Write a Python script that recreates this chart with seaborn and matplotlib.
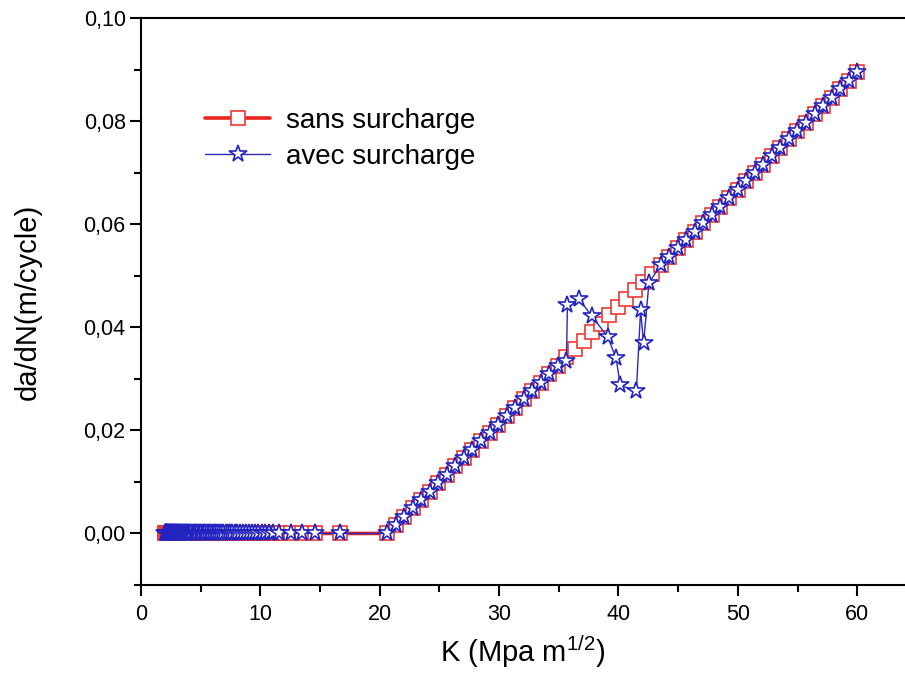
import matplotlib
matplotlib.use("Agg")
import matplotlib.pyplot as plt
import seaborn as sns
import pandas as pd
from matplotlib.ticker import MultipleLocator

# Stress intensity factor K (MPa m^1/2) -- low-K plateau where da/dN = 0
k_plateau = [2.00, 2.03, 2.06, 2.09, 2.12, 2.15, 2.18, 2.21, 2.24, 2.27,
             2.30, 2.33, 2.36, 2.40, 2.44, 2.48, 2.52, 2.56, 2.60, 2.64,
             2.68, 2.72, 2.77, 2.82, 2.87, 2.92, 2.97, 3.02, 3.08, 3.14,
             3.20, 3.26, 3.32, 3.38, 3.45, 3.52, 3.59, 3.66, 3.73, 3.81,
             3.89, 3.97, 4.05, 4.14, 4.23, 4.32, 4.41, 4.51, 4.61, 4.71,
             4.82, 4.93, 5.04, 5.16, 5.28, 5.40, 5.53, 5.66, 5.80, 5.94,
             6.09, 6.24, 6.40, 6.56, 6.73, 6.90, 7.08, 7.27, 7.46, 7.66,
             7.87, 8.08, 8.30, 8.53, 8.77, 9.02, 9.28, 9.55, 9.83, 10.12,
             10.42, 10.74, 11.08, 11.55, 12.55, 13.50, 14.55, 16.65]
dadn_plateau = [0.0, 0.0, 0.0, 0.0, 0.0, 0.0, 0.0, 0.0, 0.0, 0.0,
                0.0, 0.0, 0.0, 0.0, 0.0, 0.0, 0.0, 0.0, 0.0, 0.0,
                0.0, 0.0, 0.0, 0.0, 0.0, 0.0, 0.0, 0.0, 0.0, 0.0,
                0.0, 0.0, 0.0, 0.0, 0.0, 0.0, 0.0, 0.0, 0.0, 0.0,
                0.0, 0.0, 0.0, 0.0, 0.0, 0.0, 0.0, 0.0, 0.0, 0.0,
                0.0, 0.0, 0.0, 0.0, 0.0, 0.0, 0.0, 0.0, 0.0, 0.0,
                0.0, 0.0, 0.0, 0.0, 0.0, 0.0, 0.0, 0.0, 0.0, 0.0,
                0.0, 0.0, 0.0, 0.0, 0.0, 0.0, 0.0, 0.0, 0.0, 0.0,
                0.0, 0.0, 0.0, 0.0, 0.0, 0.0, 0.0, 0.0]

# Growth regime without overload
k_growth = [20.60, 21.32, 22.03, 22.75, 23.47, 24.18, 24.90, 25.61, 26.33, 27.05,
            27.76, 28.48, 29.20, 29.91, 30.63, 31.35, 32.06, 32.78, 33.50, 34.21,
            34.93, 35.64, 36.36, 37.08, 37.79, 38.51, 39.23, 39.94, 40.66, 41.38,
            42.09, 42.81, 43.53, 44.24, 44.96, 45.67, 46.39, 47.11, 47.82, 48.54,
            49.26, 49.97, 50.69, 51.41, 52.12, 52.84, 53.55, 54.27, 54.99, 55.70,
            56.42, 57.14, 57.85, 58.57, 59.29, 60.00]
dadn_growth = [0.0, 0.00163, 0.00325, 0.00488, 0.00651, 0.00813, 0.00976, 0.01137, 0.01301, 0.01464,
               0.01625, 0.01789, 0.01952, 0.02113, 0.02277, 0.02440, 0.02601, 0.02765, 0.02928, 0.03089,
               0.03253, 0.03414, 0.03578, 0.03741, 0.03902, 0.04066, 0.04229, 0.04390, 0.04554, 0.04717,
               0.04878, 0.05042, 0.05205, 0.05366, 0.05530, 0.05691, 0.05854, 0.06018, 0.06179, 0.06342,
               0.06506, 0.06667, 0.06830, 0.06994, 0.07155, 0.07318, 0.07480, 0.07643, 0.07807, 0.07968,
               0.08131, 0.08295, 0.08456, 0.08619, 0.08783, 0.08944]

# Growth regime with overload (retardation loop between K ~ 35.6 and 43.5)
k_overload = [20.60, 21.32, 22.03, 22.75, 23.47, 24.18, 24.90, 25.61, 26.33, 27.05,
              27.76, 28.48, 29.20, 29.91, 30.63, 31.35, 32.06, 32.78, 33.50, 34.21,
              34.93, 35.64, 35.72, 36.70, 37.80, 39.10, 39.80, 40.15, 41.50, 41.85,
              42.10, 42.55, 43.53, 44.24, 44.96, 45.67, 46.39, 47.11, 47.82, 48.54,
              49.26, 49.97, 50.69, 51.41, 52.12, 52.84, 53.55, 54.27, 54.99, 55.70,
              56.42, 57.14, 57.85, 58.57, 59.29, 60.00]
dadn_overload = [0.0, 0.00163, 0.00325, 0.00488, 0.00651, 0.00813, 0.00976, 0.01137, 0.01301, 0.01464,
                 0.01625, 0.01789, 0.01952, 0.02113, 0.02277, 0.02440, 0.02601, 0.02765, 0.02928, 0.03089,
                 0.03253, 0.03340, 0.04430, 0.04540, 0.04210, 0.03810, 0.03400, 0.02870, 0.02770, 0.04330,
                 0.03690, 0.04860, 0.05205, 0.05366, 0.05530, 0.05691, 0.05854, 0.06018, 0.06179, 0.06342,
                 0.06506, 0.06667, 0.06830, 0.06994, 0.07155, 0.07318, 0.07480, 0.07643, 0.07807, 0.07968,
                 0.08131, 0.08295, 0.08456, 0.08619, 0.08783, 0.08944]

series_labels = ["sans surcharge", "avec surcharge"]
x_ticks = [0, 10, 20, 30, 40, 50, 60]
x_tick_labels = ["0", "10", "20", "30", "40", "50", "60"]
y_ticks = [0.00, 0.02, 0.04, 0.06, 0.08, 0.10]
y_tick_labels = ["0,00", "0,02", "0,04", "0,06", "0,08", "0,10"]

sans = pd.DataFrame({"K": k_plateau + k_growth, "dadN": dadn_plateau + dadn_growth})
avec = pd.DataFrame({"K": k_plateau + k_overload, "dadN": dadn_plateau + dadn_overload})

sns.set_theme(style="ticks")
plt.rcParams["font.family"] = ["Liberation Sans", "DejaVu Sans"]
plt.rcParams["axes.linewidth"] = 1.5
plt.rcParams["text.color"] = "black"
plt.rcParams["axes.labelcolor"] = "black"
plt.rcParams["xtick.color"] = "black"
plt.rcParams["ytick.color"] = "black"

fig = plt.figure(figsize=(9.05, 6.81), dpi=100)
ax = fig.add_axes([0.1558, 0.1410, 0.8442, 0.8326])

sns.lineplot(data=sans, x="K", y="dadN", ax=ax, sort=False, estimator=None,
             color="#e8241f", linewidth=2.6, marker="s", markersize=9.5,
             markerfacecolor="white", markeredgecolor="#ec3a35", markeredgewidth=1.2,
             label=series_labels[0])
sns.lineplot(data=avec, x="K", y="dadN", ax=ax, sort=False, estimator=None,
             color="#2a2ab8", linewidth=1.0, marker="*", markersize=13,
             markerfacecolor="white", markeredgecolor="#2323c0", markeredgewidth=1.2,
             label=series_labels[1])

ax.set_xlim(0, 64.0)
ax.set_ylim(-0.01, 0.10)
ax.set_xticks(x_ticks)
ax.set_xticklabels(x_tick_labels)
ax.set_yticks(y_ticks)
ax.set_yticklabels(y_tick_labels)
ax.xaxis.set_minor_locator(MultipleLocator(5))
ax.yaxis.set_minor_locator(MultipleLocator(0.01))
ax.tick_params(which="major", direction="out", length=8, width=1.5,
               labelsize=15.5, colors="black", pad=3)
ax.tick_params(which="minor", direction="out", length=5, width=1.5)
ax.tick_params(axis="x", which="major", pad=6)

for side in ["left", "bottom", "top"]:
    ax.spines[side].set_color("black")
    ax.spines[side].set_linewidth(1.5)
ax.spines["right"].set_visible(False)

ax.set_xlabel(r"K (Mpa m$^{\mathregular{1/2}}$)", fontsize=21, labelpad=6, color="black")
ax.set_ylabel("da/dN(m/cycle)", fontsize=21, labelpad=30, color="black")

leg = ax.legend(loc="upper left", bbox_to_anchor=(0.084, 0.842), frameon=False,
                fontsize=20, handlelength=2.35, handletextpad=0.55,
                labelspacing=0.38, borderpad=0, borderaxespad=0)
for txt in leg.get_texts():
    txt.set_color("black")

fig.savefig("out.png", dpi=100)
